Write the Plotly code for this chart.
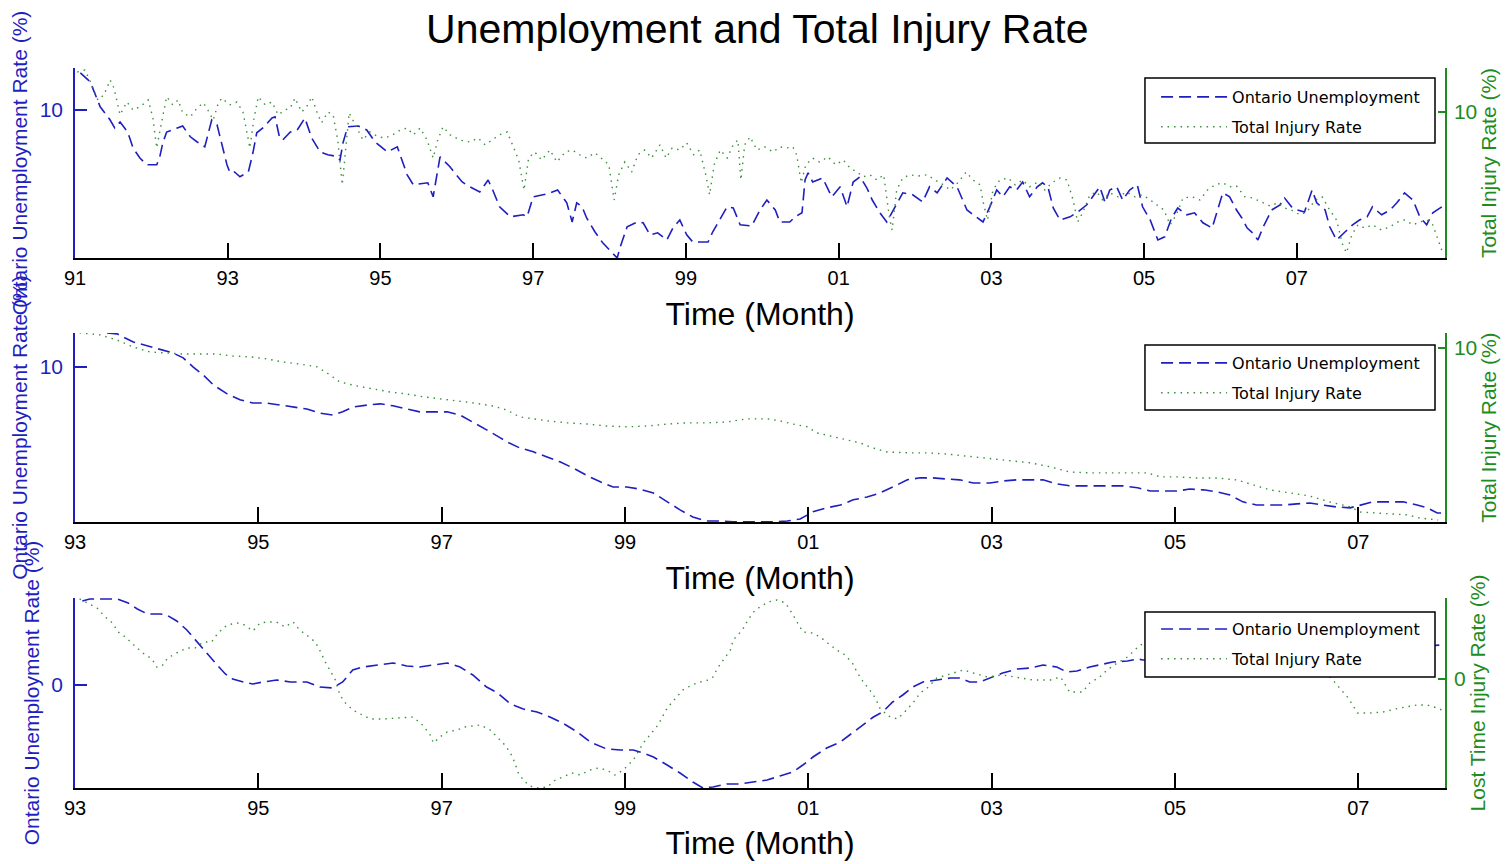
import plotly.graph_objects as go
from plotly.subplots import make_subplots

# ---------------- data ----------------
# Panel 1: monthly series 1991-2008
p1_unemp_t = [1991.07,1991.20,1991.33,1991.46,1991.52,1991.59,1991.69,1991.76,1991.85,1991.94,
    1992.07,1992.11,1992.15,1992.20,1992.34,1992.41,1992.51,1992.60,1992.70,1992.74,
    1992.79,1992.86,1992.92,1992.99,1993.03,1993.09,1993.16,1993.27,1993.33,1993.38,
    1993.46,1993.58,1993.62,1993.68,1993.72,1993.82,1993.91,1994.01,1994.10,1994.21,
    1994.31,1994.40,1994.47,1994.51,1994.57,1994.71,1994.82,1994.93,1995.09,1995.22,
    1995.35,1995.43,1995.62,1995.69,1995.78,1995.91,1996.07,1996.17,1996.30,1996.41,
    1996.47,1996.56,1996.70,1996.87,1996.92,1997.00,1997.18,1997.32,1997.44,1997.51,
    1997.57,1997.64,1997.70,1997.81,1997.91,1998.03,1998.10,1998.14,1998.23,1998.36,
    1998.44,1998.53,1998.63,1998.75,1998.83,1998.92,1999.01,1999.09,1999.29,1999.35,
    1999.45,1999.54,1999.62,1999.71,1999.86,1999.97,2000.06,2000.17,2000.23,2000.36,
    2000.43,2000.52,2000.56,2000.60,2000.66,2000.79,2000.91,2001.02,2001.11,2001.19,
    2001.28,2001.37,2001.44,2001.54,2001.63,2001.74,2001.84,2001.97,2002.10,2002.19,
    2002.29,2002.42,2002.55,2002.68,2002.81,2002.89,2002.98,2003.07,2003.15,2003.24,
    2003.33,2003.41,2003.50,2003.60,2003.67,2003.74,2003.81,2003.90,2004.03,2004.13,
    2004.25,2004.33,2004.42,2004.49,2004.55,2004.64,2004.72,2004.81,2004.91,2004.98,
    2005.08,2005.18,2005.27,2005.36,2005.44,2005.56,2005.66,2005.77,2005.89,2005.97,
    2006.03,2006.12,2006.21,2006.28,2006.35,2006.42,2006.49,2006.56,2006.67,2006.78,
    2006.84,2006.93,2007.01,2007.10,2007.20,2007.26,2007.37,2007.43,2007.52,2007.63,
    2007.73,2007.82,2007.92,2007.99,2008.11,2008.22,2008.31,2008.41,2008.52,2008.61,
    2008.70,2008.78,2008.90]
p1_unemp_v = [10.93,10.70,10.08,9.75,9.55,9.70,9.45,9.05,8.80,8.63,
    8.63,8.83,9.18,9.45,9.55,9.60,9.33,9.20,9.08,9.38,
    9.75,9.63,9.18,8.63,8.43,8.45,8.33,8.45,8.93,9.43,
    9.55,9.80,9.83,9.30,9.25,9.45,9.50,9.80,9.30,8.95,
    8.88,8.85,8.75,9.18,9.58,9.60,9.50,9.20,8.95,9.08,
    8.38,8.13,8.18,7.83,8.83,8.58,8.20,8.08,7.95,8.25,
    8.00,7.58,7.33,7.38,7.33,7.83,7.90,8.00,7.68,7.20,
    7.68,7.58,7.30,6.95,6.68,6.45,6.30,6.58,7.08,7.20,
    7.18,6.88,6.93,6.75,7.05,7.25,6.88,6.70,6.70,6.95,
    7.30,7.58,7.55,7.13,7.10,7.50,7.75,7.50,7.20,7.20,
    7.33,7.43,8.25,8.43,8.20,8.30,7.83,8.08,7.58,8.20,
    8.33,8.05,7.75,7.43,7.20,7.58,7.93,7.88,7.70,8.08,
    7.93,8.30,8.08,7.50,7.30,7.20,7.58,8.00,7.83,8.08,
    8.00,8.20,7.83,8.08,8.18,8.08,7.55,7.25,7.33,7.45,
    7.63,7.83,8.08,7.68,8.00,8.08,7.75,8.00,8.13,7.58,
    7.25,6.75,6.83,7.30,7.55,7.38,7.43,7.18,7.05,7.55,
    7.93,7.83,7.50,7.30,7.05,6.93,6.75,7.08,7.50,7.63,
    7.80,7.58,7.50,7.45,8.00,7.68,7.50,7.08,6.75,6.95,
    7.13,7.25,7.33,7.58,7.38,7.50,7.68,7.93,7.75,7.33,
    7.13,7.43,7.58]
p1_injury_t = [1991.03,1991.13,1991.22,1991.30,1991.38,1991.46,1991.51,1991.59,1991.68,1991.76,
    1991.85,1991.96,1992.02,1992.07,1992.14,1992.20,1992.28,1992.35,1992.41,1992.51,
    1992.60,1992.68,1992.74,1992.81,1992.87,1992.92,1993.03,1993.12,1993.20,1993.29,
    1993.34,1993.40,1993.49,1993.58,1993.66,1993.75,1993.82,1993.88,1993.97,1994.05,
    1994.10,1994.18,1994.23,1994.31,1994.38,1994.44,1994.50,1994.54,1994.59,1994.67,
    1994.77,1994.86,1994.97,1995.06,1995.16,1995.26,1995.35,1995.43,1995.52,1995.61,
    1995.69,1995.75,1995.82,1995.91,1996.04,1996.17,1996.28,1996.37,1996.46,1996.56,
    1996.66,1996.73,1996.81,1996.88,1996.94,1997.02,1997.11,1997.22,1997.31,1997.42,
    1997.51,1997.61,1997.70,1997.81,1997.91,1997.99,1998.06,1998.12,1998.20,1998.29,
    1998.37,1998.46,1998.55,1998.66,1998.74,1998.82,1998.92,1999.01,1999.10,1999.18,
    1999.26,1999.31,1999.37,1999.45,1999.54,1999.62,1999.68,1999.72,1999.77,1999.84,
    1999.93,2000.03,2000.14,2000.23,2000.32,2000.40,2000.45,2000.51,2000.57,2000.66,
    2000.75,2000.86,2000.96,2001.06,2001.15,2001.24,2001.32,2001.41,2001.50,2001.59,
    2001.66,2001.70,2001.76,2001.84,2001.93,2002.04,2002.16,2002.26,2002.37,2002.46,
    2002.56,2002.67,2002.76,2002.85,2002.90,2002.95,2003.02,2003.11,2003.22,2003.31,
    2003.41,2003.50,2003.61,2003.70,2003.79,2003.90,2003.99,2004.07,2004.13,2004.20,
    2004.29,2004.38,2004.46,2004.55,2004.66,2004.77,2004.88,2004.98,2005.08,2005.17,
    2005.26,2005.34,2005.42,2005.51,2005.63,2005.73,2005.83,2005.93,2006.03,2006.12,
    2006.21,2006.32,2006.42,2006.54,2006.65,2006.75,2006.84,2006.93,2007.04,2007.13,
    2007.24,2007.33,2007.43,2007.52,2007.60,2007.65,2007.72,2007.80,2007.89,2007.99,
    2008.11,2008.22,2008.32,2008.41,2008.52,2008.61,2008.70,2008.78,2008.85,2008.91]
p1_injury_v = [11.00,11.05,10.68,10.30,10.43,10.80,10.60,9.93,10.25,10.05,
    10.13,10.30,9.85,9.10,9.80,10.38,10.18,10.30,9.98,9.88,
    10.10,10.23,10.05,9.80,10.18,10.35,10.18,10.25,10.00,9.10,
    9.80,10.38,10.18,10.25,9.93,10.05,10.10,10.35,10.00,10.18,
    10.38,9.93,9.73,10.00,9.93,9.30,8.18,9.05,9.98,9.68,
    9.30,9.50,9.38,9.35,9.43,9.55,9.60,9.43,9.60,9.30,
    8.85,9.30,9.63,9.43,9.30,9.25,9.35,9.18,9.30,9.43,
    9.50,9.18,8.80,8.05,8.85,9.00,8.80,9.05,8.75,9.00,
    9.05,8.93,8.85,8.98,8.80,8.68,7.80,8.43,8.75,8.50,
    8.93,9.05,8.85,9.18,8.85,9.10,9.05,9.23,8.93,9.05,
    8.43,7.93,8.68,9.05,8.85,9.18,9.30,8.30,9.18,9.38,
    9.05,9.13,9.00,9.13,9.10,9.13,8.93,8.23,8.68,8.85,
    8.75,8.88,8.68,8.80,8.60,8.50,8.38,8.43,8.30,8.43,
    7.43,7.05,8.05,8.35,8.43,8.40,8.43,8.30,8.18,8.05,
    8.23,8.50,8.30,8.18,7.68,7.30,8.05,8.30,8.35,8.18,
    8.30,8.13,8.25,8.05,8.23,8.35,8.30,7.80,7.25,7.50,
    7.93,8.00,7.80,7.98,7.88,8.00,7.88,7.93,7.80,7.68,
    7.55,7.18,7.43,7.85,7.88,7.80,8.05,8.18,8.23,8.13,
    8.15,7.88,7.85,7.75,7.65,7.73,7.60,7.55,7.43,7.50,
    7.80,7.88,7.55,7.30,6.68,6.48,6.93,7.18,7.10,7.18,
    7.05,7.13,7.25,7.30,7.18,7.25,7.30,7.18,6.80,6.48]

# Panel 2: smoothed series 1993-2007
p2_unemp_t = [1993.35,1993.46,1993.63,1993.79,1993.93,1994.07,1994.18,1994.29,1994.40,1994.51,
    1994.66,1994.80,1994.94,1995.09,1995.24,1995.38,1995.53,1995.67,1995.81,1995.92,
    1996.03,1996.19,1996.33,1996.47,1996.62,1996.76,1996.91,1997.06,1997.20,1997.34,
    1997.49,1997.64,1997.71,1997.85,1998.00,1998.15,1998.29,1998.43,1998.59,1998.73,
    1998.87,1999.02,1999.16,1999.31,1999.46,1999.60,1999.74,1999.89,2000.04,2000.18,
    2000.33,2000.47,2000.61,2000.77,2000.91,2001.05,2001.20,2001.35,2001.49,2001.64,
    2001.78,2001.92,2002.08,2002.22,2002.36,2002.51,2002.65,2002.80,2002.98,2003.12,
    2003.28,2003.42,2003.56,2003.71,2003.85,2004.00,2004.15,2004.29,2004.43,2004.59,
    2004.73,2004.87,2005.02,2005.16,2005.31,2005.46,2005.60,2005.74,2005.89,2006.04,
    2006.18,2006.33,2006.47,2006.61,2006.77,2006.91,2007.02,2007.16,2007.35,2007.49,
    2007.64,2007.75,2007.86,2007.92]
p2_unemp_v = [10.85,10.83,10.63,10.53,10.43,10.35,10.23,10.00,9.80,9.55,
    9.33,9.18,9.10,9.10,9.05,9.00,8.95,8.85,8.80,8.88,
    9.00,9.05,9.08,9.03,8.95,8.88,8.88,8.88,8.80,8.63,
    8.43,8.23,8.13,7.98,7.88,7.75,7.63,7.48,7.28,7.13,
    7.00,7.00,6.95,6.85,6.63,6.43,6.25,6.15,6.15,6.13,
    6.13,6.13,6.13,6.15,6.20,6.38,6.48,6.55,6.68,6.75,
    6.85,7.00,7.18,7.23,7.23,7.20,7.18,7.10,7.10,7.15,
    7.18,7.18,7.18,7.08,7.03,7.03,7.03,7.03,7.03,6.98,
    6.90,6.90,6.90,6.95,6.93,6.88,6.80,6.63,6.55,6.55,
    6.55,6.58,6.60,6.55,6.50,6.48,6.55,6.63,6.63,6.63,
    6.55,6.48,6.35,6.35]
p2_injury_t = [1993.05,1993.27,1993.46,1993.63,1993.82,1994.00,1994.18,1994.36,1994.55,1994.72,
    1994.91,1995.09,1995.27,1995.45,1995.64,1995.78,1995.89,1996.08,1996.25,1996.44,
    1996.62,1996.80,1996.98,1997.17,1997.34,1997.56,1997.71,1997.85,1998.00,1998.15,
    1998.37,1998.59,1998.80,1999.02,1999.24,1999.46,1999.68,1999.89,2000.11,2000.33,
    2000.55,2000.69,2000.83,2000.99,2001.09,2001.27,2001.42,2001.56,2001.71,2001.86,
    2002.08,2002.29,2002.51,2002.73,2002.95,2003.20,2003.42,2003.64,2003.85,2004.07,
    2004.29,2004.51,2004.69,2004.84,2005.02,2005.24,2005.46,2005.68,2005.85,2006.04,
    2006.25,2006.47,2006.69,2006.91,2007.02,2007.16,2007.35,2007.53,2007.67,2007.78,
    2007.87]
p2_injury_v = [10.38,10.33,10.20,10.03,9.90,9.88,9.85,9.85,9.85,9.80,
    9.78,9.73,9.65,9.60,9.53,9.33,9.15,9.05,8.98,8.90,
    8.85,8.78,8.73,8.68,8.63,8.55,8.45,8.28,8.23,8.18,
    8.13,8.10,8.05,8.03,8.05,8.10,8.13,8.13,8.15,8.23,
    8.23,8.18,8.10,8.03,7.88,7.78,7.70,7.63,7.50,7.40,
    7.38,7.38,7.35,7.30,7.25,7.18,7.13,7.03,6.90,6.88,
    6.88,6.88,6.88,6.78,6.78,6.75,6.75,6.70,6.58,6.45,
    6.38,6.30,6.15,6.03,5.90,5.88,5.85,5.83,5.75,5.73,
    5.70]

# Panel 3: detrended series 1993-2007
p3_unemp_t = [1993.08,1993.16,1993.27,1993.46,1993.58,1993.68,1993.79,1993.93,1994.00,1994.11,
    1994.22,1994.33,1994.44,1994.55,1994.64,1994.72,1994.88,1994.94,1995.05,1995.20,
    1995.35,1995.53,1995.67,1995.81,1995.92,1996.03,1996.14,1996.29,1996.47,1996.62,
    1996.76,1996.91,1997.06,1997.20,1997.34,1997.49,1997.61,1997.75,1997.89,1998.04,
    1998.18,1998.32,1998.48,1998.62,1998.80,1998.95,1999.09,1999.20,1999.31,1999.46,
    1999.60,1999.74,1999.85,1999.96,2000.11,2000.25,2000.40,2000.55,2000.69,2000.83,
    2000.94,2001.05,2001.20,2001.35,2001.45,2001.56,2001.71,2001.81,2001.92,2002.03,
    2002.14,2002.25,2002.40,2002.55,2002.65,2002.76,2002.87,2003.01,2003.12,2003.28,
    2003.42,2003.56,2003.71,2003.82,2003.93,2004.07,2004.18,2004.32,2004.48,2004.59,
    2004.65,2005.27,2005.93,2006.58,2007.24,2007.91]
p3_unemp_v = [0.84,0.86,0.86,0.86,0.82,0.76,0.71,0.71,0.70,0.64,
    0.55,0.43,0.32,0.20,0.11,0.06,0.02,0.01,0.03,0.05,
    0.03,0.03,-0.02,-0.03,0.03,0.15,0.18,0.20,0.22,0.19,
    0.18,0.20,0.22,0.18,0.10,-0.02,-0.08,-0.19,-0.24,-0.27,
    -0.32,-0.38,-0.47,-0.57,-0.64,-0.65,-0.65,-0.68,-0.72,-0.80,
    -0.88,-0.97,-1.03,-1.02,-0.99,-0.99,-0.97,-0.95,-0.91,-0.87,
    -0.80,-0.72,-0.63,-0.57,-0.50,-0.42,-0.32,-0.27,-0.17,-0.10,
    -0.02,0.03,0.05,0.07,0.07,0.03,0.03,0.08,0.12,0.16,
    0.17,0.20,0.18,0.13,0.14,0.18,0.20,0.23,0.24,0.26,
    0.25,0.28,0.30,0.33,0.37,0.40]
p3_injury_t = [1993.05,1993.24,1993.33,1993.41,1993.47,1993.55,1993.63,1993.74,1993.84,1993.89,
    1993.95,1994.01,1994.11,1994.22,1994.31,1994.40,1994.49,1994.56,1994.66,1994.77,
    1994.85,1994.94,1995.02,1995.09,1995.20,1995.29,1995.38,1995.45,1995.54,1995.62,
    1995.68,1995.73,1995.78,1995.84,1995.89,1995.95,1996.03,1996.13,1996.22,1996.36,
    1996.51,1996.69,1996.79,1996.87,1996.91,1996.98,1997.06,1997.17,1997.25,1997.42,
    1997.53,1997.61,1997.69,1997.75,1997.80,1997.83,1997.89,1997.96,1998.05,1998.15,
    1998.24,1998.32,1998.42,1998.51,1998.62,1998.71,1998.80,1998.89,1998.98,1999.09,
    1999.20,1999.29,1999.36,1999.46,1999.55,1999.63,1999.73,1999.82,1999.91,1999.96,
    2000.01,2000.09,2000.15,2000.18,2000.28,2000.33,2000.39,2000.47,2000.56,2000.66,
    2000.75,2000.82,2000.88,2000.94,2001.04,2001.13,2001.21,2001.31,2001.40,2001.48,
    2001.53,2001.60,2001.67,2001.73,2001.78,2001.87,2001.97,2002.05,2002.14,2002.22,
    2002.31,2002.40,2002.51,2002.62,2002.69,2002.80,2002.95,2003.12,2003.31,2003.45,
    2003.64,2003.75,2003.85,2003.99,2004.07,2004.18,2004.26,2004.37,2004.48,2004.54,
    2004.62,2004.95,2005.27,2005.71,2006.15,2006.47,2006.62,2006.72,2006.80,2006.89,
    2006.99,2007.13,2007.27,2007.45,2007.64,2007.75,2007.86,2007.91]
p3_injury_v = [0.80,0.71,0.62,0.56,0.47,0.42,0.35,0.26,0.20,0.12,
    0.13,0.21,0.26,0.31,0.31,0.37,0.37,0.46,0.54,0.56,
    0.54,0.48,0.56,0.57,0.57,0.52,0.57,0.49,0.43,0.37,
    0.27,0.17,0.09,-0.01,-0.16,-0.24,-0.31,-0.36,-0.40,-0.40,
    -0.39,-0.38,-0.46,-0.55,-0.64,-0.58,-0.53,-0.51,-0.48,-0.46,
    -0.51,-0.58,-0.66,-0.74,-0.84,-0.93,-1.01,-1.07,-1.09,-1.08,
    -1.01,-0.98,-0.94,-0.96,-0.91,-0.89,-0.91,-0.96,-0.91,-0.81,
    -0.64,-0.54,-0.46,-0.29,-0.19,-0.11,-0.06,-0.03,-0.01,0.02,
    0.11,0.21,0.29,0.39,0.49,0.57,0.66,0.72,0.77,0.79,
    0.76,0.66,0.57,0.47,0.46,0.42,0.36,0.29,0.24,0.16,
    0.07,-0.03,-0.11,-0.19,-0.29,-0.37,-0.40,-0.33,-0.24,-0.14,
    -0.08,0.01,0.04,0.07,0.09,0.06,0.02,0.04,0.01,-0.01,
    -0.01,0.02,-0.13,-0.13,-0.04,0.02,0.09,0.16,0.22,0.27,
    0.34,0.44,0.49,0.44,0.29,0.17,0.09,-0.01,-0.09,-0.19,
    -0.34,-0.34,-0.33,-0.29,-0.26,-0.26,-0.29,-0.31]

# tick labels
p1_tickvals = [1991, 1993, 1995, 1997, 1999, 2001, 2003, 2005, 2007]
p1_ticktext = ["91", "93", "95", "97", "99", "01", "03", "05", "07"]
p23_tickvals = [1993, 1995, 1997, 1999, 2001, 2003, 2005, 2007]
p23_ticktext = ["93", "95", "97", "99", "01", "03", "05", "07"]

series_names = ["Ontario Unemployment", "Total Injury Rate"]
left_titles = ["Ontario Unemployment Rate (%)"] * 3
right_titles = ["Total Injury Rate (%)", "Total Injury Rate (%)", "Lost Time Injury Rate (%)"]

# ---------------- styling ----------------
BLUE = "#1f1fbf"
GREEN = "#1e8c1e"
GREEN_LINE = "#3a8f3a"
FONT = "Liberation Sans, Arial, sans-serif"
LEGFONT = "DejaVu Sans, sans-serif"

fig = make_subplots(rows=3, cols=1, specs=[[{"secondary_y": True}]] * 3)

panels = [
    (p1_unemp_t, p1_unemp_v, p1_injury_t, p1_injury_v, "legend"),
    (p2_unemp_t, p2_unemp_v, p2_injury_t, p2_injury_v, "legend2"),
    (p3_unemp_t, p3_unemp_v, p3_injury_t, p3_injury_v, "legend3"),
]
for i, (tu, vu, tg, vg, leg) in enumerate(panels):
    fig.add_trace(go.Scatter(x=tu, y=vu, mode="lines", name=series_names[0],
                             line=dict(color=BLUE, width=1.6, dash="12px,6px"),
                             legend=leg, legendgroup=f"u{i}", hoverinfo="skip"),
                  row=i + 1, col=1, secondary_y=False)
    fig.add_trace(go.Scatter(x=tg, y=vg, mode="lines", name=series_names[1],
                             line=dict(color=GREEN_LINE, width=1.4, dash="1.5px,5px"),
                             legend=leg, legendgroup=f"g{i}", hoverinfo="skip"),
                  row=i + 1, col=1, secondary_y=True)

domains = [[0.7361, 1.0], [0.3694, 0.6319], [0.0, 0.2639]]
left_ranges = [[6.30, 11.05], [6.125, 10.85], [-1.03, 0.87]]
right_ranges = [[6.35, 11.10], [5.65, 10.375], [-1.09, 0.81]]
left_ticks = [[10], [10], [0]]
right_ticks = [[10], [10], [0]]
x_ranges = [[1991.0, 2008.94], [1993.0, 2007.945], [1993.0, 2007.945]]
x_ticks = [(p1_tickvals, p1_ticktext), (p23_tickvals, p23_ticktext), (p23_tickvals, p23_ticktext)]
x_title_standoff = [15, 15, 14]

layout = {}
for i in range(3):
    xname = "xaxis" if i == 0 else f"xaxis{i + 1}"
    ylname = "yaxis" if i == 0 else f"yaxis{2 * i + 1}"
    yrname = f"yaxis{2 * i + 2}"
    layout[xname] = dict(
        domain=[0, 1], range=x_ranges[i], tickvals=x_ticks[i][0], ticktext=x_ticks[i][1],
        ticks="inside", ticklen=15, tickwidth=1.5, tickcolor="black",
        showline=True, linecolor="black", linewidth=2, mirror=False,
        showgrid=False, zeroline=False, automargin=False, ticklabelstandoff=1,
        tickfont=dict(family=FONT, size=20, color="black"),
        title=dict(text="Time (Month)", font=dict(family=FONT, size=32, color="black"),
                   standoff=x_title_standoff[i]),
    )
    layout[ylname] = dict(
        domain=domains[i], range=left_ranges[i], tickvals=left_ticks[i],
        ticks="inside", ticklen=12, tickwidth=1.5, tickcolor=BLUE,
        showline=True, linecolor=BLUE, linewidth=1.5,
        showgrid=False, zeroline=False, automargin=False, ticklabelstandoff=6,
        tickfont=dict(family=FONT, size=21, color=BLUE),
        title=dict(text=left_titles[i], font=dict(family=FONT, size=21, color=BLUE), standoff=6),
    )
    layout[yrname] = dict(
        domain=domains[i], range=right_ranges[i], tickvals=right_ticks[i],
        ticks="inside", ticklen=7, tickwidth=1.5, tickcolor=GREEN,
        showline=True, linecolor=GREEN, linewidth=1.5,
        showgrid=False, zeroline=False, automargin=False, ticklabelstandoff=3,
        tickfont=dict(family=FONT, size=21, color=GREEN),
        title=dict(text=right_titles[i], font=dict(family=FONT, size=21, color=GREEN), standoff=4),
    )

# legends (box drawn as a shape, items placed inside it)
legend_tops = [0.9833, 0.6139, 0.2444]
box_y = [(0.8958, 0.9861), (0.5250, 0.6153), (0.1542, 0.2444)]
shapes = []
for i, top in enumerate(legend_tops):
    lname = "legend" if i == 0 else f"legend{i + 1}"
    layout[lname] = dict(
        x=0.7891, y=top, xanchor="left", yanchor="top",
        bgcolor="rgba(0,0,0,0)", borderwidth=0,
        font=dict(family=LEGFONT, size=16, color="black"),
        itemwidth=66, traceorder="grouped", tracegroupgap=6,
    )
    shapes.append(dict(type="rect", xref="paper", yref="paper",
                       x0=0.7810, x1=0.9927, y0=box_y[i][0], y1=box_y[i][1],
                       fillcolor="white", line=dict(color="black", width=1.5), layer="above"))

fig.update_layout(**layout)
fig.update_layout(
    width=1505, height=864,
    margin=dict(l=75, r=60, t=68, b=76, autoexpand=False),
    paper_bgcolor="white", plot_bgcolor="white",
    shapes=shapes,
    title=dict(text="Unemployment and Total Injury Rate", x=0.498, xref="paper", xanchor="center",
               y=1 - 29 / 864, yref="container", yanchor="middle",
               font=dict(family=FONT, size=41, color="black")),
    showlegend=True,
)

# remove the default page margin so the figure sits at the window's top-left corner
fig.write_html("out.html",
               config={"displayModeBar": False},
               post_script="document.body.style.margin='0px';document.body.style.overflow='hidden';")
